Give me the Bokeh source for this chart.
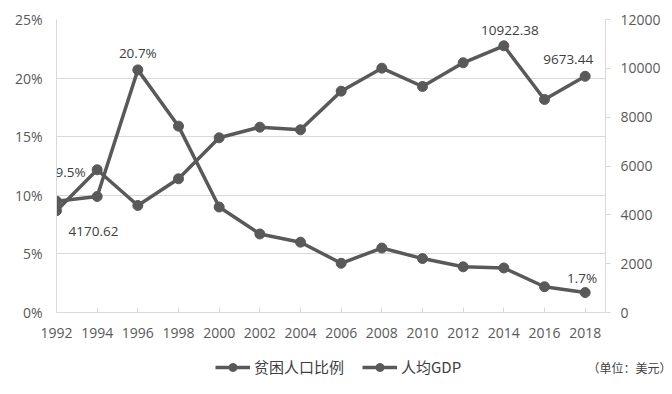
from bokeh.plotting import figure
from bokeh.models import (Range1d, LinearAxis, FixedTicker, NumeralTickFormatter,
                          Legend, LegendItem, Label, ColumnDataSource)
from bokeh.core.properties import value
from bokeh.embed import file_html
from bokeh.resources import INLINE

years = [1992, 1994, 1996, 1998, 2000, 2002, 2004, 2006, 2008, 2010, 2012, 2014, 2016, 2018]
poverty = [0.095, 0.099, 0.207, 0.159, 0.090, 0.067, 0.060, 0.042, 0.055, 0.046, 0.039, 0.038, 0.022, 0.017]
gdp = [4170.62, 5845, 4383, 5476, 7155, 7590, 7483, 9065, 10007, 9257, 10228, 10922.38, 8725, 9673.44]
series_names = ["贫困人口比例", "人均GDP"]
unit_note = "（单位：美元）"

left_ticks = [0, 0.05, 0.10, 0.15, 0.20, 0.25]
right_ticks = [0, 2000, 4000, 6000, 8000, 10000, 12000]

LINE = "#595959"
FONT = "Open Sans"
CJK = "Noto Sans CJK SC"

p = figure(width=672, height=342, output_backend="svg", toolbar_location=None,
           x_range=Range1d(1992, 2019), y_range=Range1d(0, 0.25),
           min_border_left=56, min_border_top=19, min_border_right=67, min_border_bottom=30)
p.outline_line_color = None
p.extra_y_ranges = {"gdp": Range1d(0, 12000)}

# axes
p.xaxis.ticker = FixedTicker(ticks=years)
p.xaxis.major_tick_in = 5
p.xaxis.major_tick_out = 0
p.xaxis.minor_tick_line_color = None
p.xaxis.axis_line_color = "#d9d9d9"
p.xaxis.major_tick_line_color = "#d9d9d9"
p.xaxis.major_label_standoff = 15

p.yaxis.ticker = FixedTicker(ticks=left_ticks)
p.yaxis.formatter = NumeralTickFormatter(format="0%")
p.yaxis.major_tick_in = 0
p.yaxis.major_tick_out = 0
p.yaxis.minor_tick_line_color = None
p.yaxis.axis_line_color = "#d9d9d9"
p.yaxis.major_label_standoff = 14

ax2 = LinearAxis(y_range_name="gdp", ticker=FixedTicker(ticks=right_ticks),
                 formatter=NumeralTickFormatter(format="0"))
ax2.major_tick_in = 0
ax2.major_tick_out = 5
ax2.minor_tick_line_color = None
ax2.axis_line_color = "#d9d9d9"
ax2.major_tick_line_color = "#d9d9d9"
ax2.major_label_standoff = 10
p.add_layout(ax2, "right")

for ax in [p.xaxis[0], p.yaxis[0], ax2]:
    ax.major_label_text_font = FONT
    ax.major_label_text_font_size = "14px"
    ax.major_label_text_color = "#595959"

p.xgrid.grid_line_color = None
p.ygrid.ticker = FixedTicker(ticks=left_ticks)
p.ygrid.grid_line_color = "#d9d9d9"
p.ygrid.grid_line_width = 1

src = ColumnDataSource(dict(year=years, poverty=poverty, gdp=gdp))

p.line("year", "poverty", source=src, line_color=LINE, line_width=3.5)
p.scatter("year", "poverty", source=src, size=10, fill_color=LINE, line_color=LINE)
p.line("year", "gdp", source=src, line_color=LINE, line_width=3.5, y_range_name="gdp")
p.scatter("year", "gdp", source=src, size=10, fill_color=LINE, line_color=LINE, y_range_name="gdp")

# data labels
def fmt_pct(v):
    return f"{v*100:.1f}%"

def fmt_gdp(v):
    return f"{v:.2f}"

lab_left = ColumnDataSource(dict(
    x=[years[0], years[2], years[-1]],
    y=[poverty[0], poverty[2], poverty[-1]],
    t=[fmt_pct(poverty[0]), fmt_pct(poverty[2]), fmt_pct(poverty[-1])],
    dx=[14, 0, -3], dy=[-29, -17, -15]))
lab_right = ColumnDataSource(dict(
    x=[years[0], years[11], years[-1]],
    y=[gdp[0], gdp[11], gdp[-1]],
    t=[fmt_gdp(gdp[0]), fmt_gdp(gdp[11]), fmt_gdp(gdp[-1])],
    dx=[37, 6, -17], dy=[21, -15, -17]))

for s, rn in [(lab_left, "default"), (lab_right, "gdp")]:
    p.text("x", "y", text="t", source=s, x_offset="dx", y_offset="dy", y_range_name=rn,
           text_font=value(FONT), text_font_size="13.5px", text_color="#404040",
           text_align="center", text_baseline="middle")

# legend strip: a separate root so it is not clipped by the chart frame
p2 = figure(width=672, height=52, output_backend="svg", toolbar_location=None,
            x_axis_type=None, y_axis_type=None, min_border=0,
            x_range=Range1d(0, 1), y_range=Range1d(0, 1))
p2.outline_line_color = None
p2.xgrid.grid_line_color = None
p2.ygrid.grid_line_color = None
# series drawn outside this strip's ranges: only their legend symbols are visible
d1 = p2.line("year", "poverty", source=src, line_color=LINE, line_width=3.5)
d2 = p2.scatter("year", "poverty", source=src, size=10, fill_color=LINE, line_color=LINE)
d3 = p2.line("year", "gdp", source=src, line_color=LINE, line_width=3.5)
d4 = p2.scatter("year", "gdp", source=src, size=10, fill_color=LINE, line_color=LINE)

legend = Legend(items=[LegendItem(label=series_names[0], renderers=[d1, d2]),
                       LegendItem(label=series_names[1], renderers=[d3, d4])],
                orientation="horizontal", location=(215, 17),
                border_line_color=None, background_fill_alpha=0,
                label_text_font=CJK, label_text_font_size="15px",
                label_text_color="#404040", glyph_width=35, label_standoff=4,
                spacing=18, padding=0, margin=0, label_height=20, glyph_height=20)
p2.add_layout(legend, "center")

p2.add_layout(Label(x=587, y=27, x_units="screen", y_units="screen", text=unit_note,
                    text_font=CJK, text_font_size="12px",
                    text_color="#404040", text_baseline="middle"))

open("out.html", "w").write(file_html([p, p2], INLINE))
